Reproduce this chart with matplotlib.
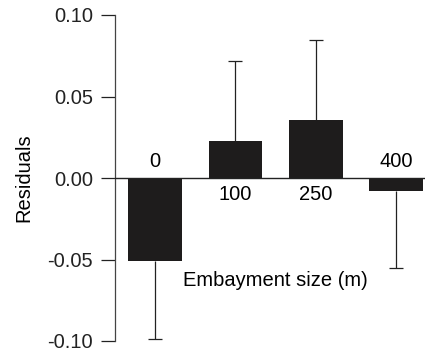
import matplotlib
matplotlib.use("Agg")
import matplotlib.pyplot as plt
import numpy as np

plt.rcParams['font.family'] = ['Liberation Sans', 'DejaVu Sans']

categories = ["0", "100", "250", "400"]
residuals = [-0.051, 0.023, 0.0355, -0.008]
errors = [0.048, 0.049, 0.049, 0.047]
yticks = [-0.10, -0.05, 0.00, 0.05, 0.10]
ytick_labels = ["-0.10", "-0.05", "0.00", "0.05", "0.10"]

FS = 14.5
fig = plt.figure(figsize=(4.34, 3.52), dpi=100)
ax = fig.add_axes([115/434, 1-341/352, (425-115)/434, (341-15)/352])

x = np.arange(len(categories))
bar_color = '#1e1c1c'
ax.bar(x, residuals, width=0.67, color=bar_color, zorder=2)

line_color = '#222222'
for xi, r, e in zip(x, residuals, errors):
    end = r - e if r < 0 else r + e
    ax.vlines(xi, r, end, color=line_color, lw=0.9, zorder=1)
    ax.plot([xi], [end], marker='_', markersize=10, markeredgewidth=0.9,
            color=line_color, zorder=1)

ax.axhline(0, color=line_color, lw=1.0, zorder=3)

for xi, r, lab in zip(x, residuals, categories):
    if r < 0:
        ax.text(xi, 0.004, lab, ha='center', va='bottom', fontsize=FS)
    else:
        ax.text(xi, -0.004, lab, ha='center', va='top', fontsize=FS)

ax.text(1.5, -0.063, "Embayment size (m)", ha='center', va='center', fontsize=FS)

ax.set_xlim(-0.5, 3.36)
ax.set_ylim(-0.10, 0.10)
ax.set_yticks(yticks)
ax.set_yticklabels(ytick_labels, fontsize=FS)
ax.set_xticks([])
ax.tick_params(axis='y', direction='out', length=10, width=0.9, pad=6, colors='#222222')
for s in ['top', 'right', 'bottom']:
    ax.spines[s].set_visible(False)
ax.spines['left'].set_linewidth(0.9)
ax.spines['left'].set_color('#444444')
ax.set_ylabel("Residuals", fontsize=FS, labelpad=10)
ax.patch.set_alpha(0)

fig.savefig("out.png", dpi=100)
